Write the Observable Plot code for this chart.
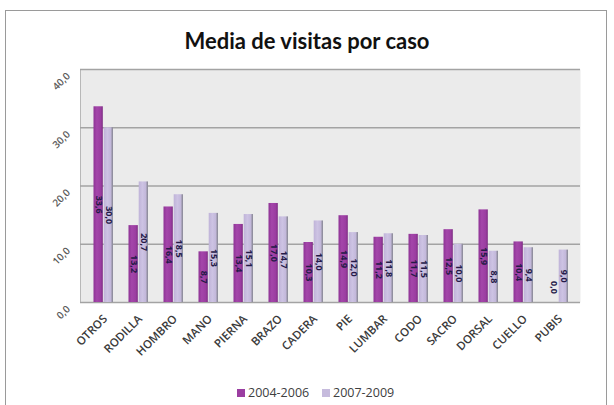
<!DOCTYPE html>
<html>
<head>
<meta charset="utf-8">
<script src="https://cdn.jsdelivr.net/npm/d3@7"></script>
<script src="https://cdn.jsdelivr.net/npm/@observablehq/plot@0.6"></script>
<style>
  html, body { margin: 0; padding: 0; background: #fff; }
  body { width: 614px; height: 405px; position: relative; overflow: hidden; font-family: "Open Sans", Lato, sans-serif; }
  #frame { position: absolute; left: 5px; top: 10px; width: 602px; height: 420px; border: 1px solid #9a9a9a; box-sizing: border-box; }
  #title { position: absolute; left: 0; width: 614px; top: 27px; text-align: center; font-family: Lato, "Open Sans", sans-serif; font-weight: 700; font-size: 22px; color: #111; }
  #chart { position: absolute; left: 0; top: 0; }
  #legend { position: absolute; top: 384px; left: 0; width: 614px; font-size: 12.5px; color: #404040; font-family: "Open Sans", sans-serif; }
  .item { position: absolute; top: 0; white-space: nowrap; }
  .sw { display: inline-block; width: 8px; height: 8px; margin-right: 3px; vertical-align: 0px; }
</style>
</head>
<body>
<div id="frame"></div>
<div id="title">Media de visitas por caso</div>
<div id="chart"></div>
<div id="legend"></div>
<script>
const categories = ["OTROS","RODILLA","HOMBRO","MANO","PIERNA","BRAZO","CADERA","PIE","LUMBAR","CODO","SACRO","DORSAL","CUELLO","PUBIS"];
const series = ["2004-2006", "2007-2009"];
const values2004 = [33.6, 13.2, 16.4, 8.7, 13.4, 17.0, 10.3, 14.9, 11.2, 11.7, 12.5, 15.9, 10.4, 0.0];
const values2007 = [30.0, 20.7, 18.5, 15.3, 15.1, 14.7, 14.0, 12.0, 11.8, 11.5, 10.0, 8.8, 9.4, 9.0];
const yTicks = [0, 10, 20, 30, 40];

const fmt = v => d3.format(".1f")(v).replace(".", ",");
const dataA = categories.map((c, i) => ({cat: c, v: values2004[i]}));
const dataB = categories.map((c, i) => ({cat: c, v: values2007[i]}));

const defs = () => {
  const d = d3.create("svg:defs");
  const gA = d.append("linearGradient").attr("id", "gA").attr("x1", 0).attr("x2", 1).attr("y1", 0).attr("y2", 0);
  gA.append("stop").attr("offset", "0%").attr("stop-color", "#8e3395");
  gA.append("stop").attr("offset", "35%").attr("stop-color", "#a446aa");
  gA.append("stop").attr("offset", "80%").attr("stop-color", "#9a3ca0");
  gA.append("stop").attr("offset", "100%").attr("stop-color", "#7a2a80");
  const gB = d.append("linearGradient").attr("id", "gB").attr("x1", 0).attr("x2", 1).attr("y1", 0).attr("y2", 0);
  gB.append("stop").attr("offset", "0%").attr("stop-color", "#bfb3d8");
  gB.append("stop").attr("offset", "40%").attr("stop-color", "#cdc3e3");
  gB.append("stop").attr("offset", "78%").attr("stop-color", "#c2b7da");
  gB.append("stop").attr("offset", "88%").attr("stop-color", "#9a97a8");
  gB.append("stop").attr("offset", "100%").attr("stop-color", "#8a8898");
  return d.node();
};

const labelStyle = {fontSize: 9, fontWeight: 700, fill: "#241a48", rotate: 90, textAnchor: "middle"};

const plot = Plot.plot({
  width: 614,
  height: 405,
  marginLeft: 80,
  marginRight: 34,
  marginTop: 69,
  marginBottom: 103,
  style: {background: "transparent", fontFamily: "'Open Sans', sans-serif", overflow: "visible"},
  x: {domain: categories, padding: 0, axis: null},
  y: {domain: [0, 40], axis: null},
  marks: [
    defs,
    Plot.frame({fill: "#ebebeb", stroke: null}),
    Plot.frame({anchor: "left", stroke: "#b8b8b8"}),
    Plot.ruleY(yTicks, {stroke: "#a3a3a3", strokeWidth: 1.5}),
    Plot.barY(dataA, {x: "cat", y: "v", fill: "url(#gA)", insetLeft: 8.5, insetRight: 17.2}),
    Plot.barY(dataB, {x: "cat", y: "v", fill: "url(#gB)", insetLeft: 18.7, insetRight: 7}),
    Plot.text(dataA.filter(d => d.v > 0), {x: "cat", y: d => d.v / 2, text: d => fmt(d.v), dx: -4.5, ...labelStyle}),
    Plot.text(dataA.filter(d => d.v === 0), {x: "cat", y: "v", text: d => fmt(d.v), dx: -4.5, dy: -15, ...labelStyle}),
    Plot.text(dataB, {x: "cat", y: d => d.v / 2, text: d => fmt(d.v), dx: 5.8, ...labelStyle}),
    Plot.text(yTicks, {y: d => d, text: d => fmt(d), frameAnchor: "left", dx: -12, dy: 5, rotate: -45, textAnchor: "end", fontSize: 10, fontWeight: 600, fill: "#5a5a5a"}),
    Plot.text(categories, {x: d => d, text: d => d, frameAnchor: "bottom", dx: 5, dy: 17, rotate: -45, textAnchor: "end", fontSize: 11.5, fontWeight: 600, fill: "#3a3a3a"})
  ]
});
document.getElementById("chart").appendChild(plot);

const legend = document.getElementById("legend");
const legendColors = ["#9b3ea1", "#c6bbdd"];
const legendX = [237, 322];
series.forEach((s, i) => {
  const it = document.createElement("div");
  it.className = "item";
  it.style.left = legendX[i] + "px";
  it.innerHTML = `<span class="sw" style="background:${legendColors[i]}"></span>${s}`;
  legend.appendChild(it);
});
</script>
</body>
</html>
